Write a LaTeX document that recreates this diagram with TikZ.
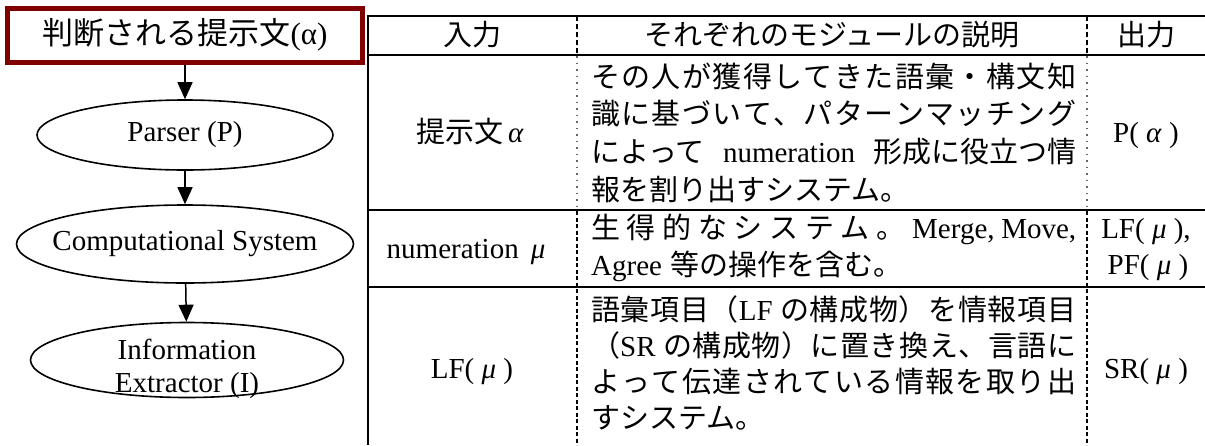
\documentclass[tikz,border=0pt]{standalone}
\usepackage{fontspec}
\setmainfont{Liberation Serif}
\newfontfamily\jp{Noto Sans CJK JP}
\usetikzlibrary{shapes.geometric,arrows.meta}
\definecolor{boxred}{RGB}{128,0,0}
\def\spreadchars#1{\spreadfirst#1\relax}
\def\spreadfirst#1{#1\spreadrest}
\def\spreadrest#1{\ifx\relax#1\else\hfil#1\expandafter\spreadrest\fi}
\newcommand\jline[1]{\makebox[485pt][s]{#1}}
\tikzset{
  every node/.style={font=\fontsize{29}{33}\selectfont, inner sep=0pt},
  titlebox/.style={draw=boxred, line width=5pt, minimum width=355pt, minimum height=54pt, font=\fontsize{31}{36}\selectfont},
  ell/.style={draw, ellipse, line width=1.6pt},
  arr/.style={line width=1.5pt, -{Triangle[length=17pt,width=15pt]}},
  rule/.style={line width=2.5pt},
  vrule/.style={line width=2pt},
  hdash/.style={line width=2.6pt, dash pattern=on 5pt off 3pt},
  fdot/.style={line width=1.3pt, black!60, dash pattern=on 1.5pt off 5pt},
  tdash/.style={line width=2.4pt, dash pattern=on 4pt off 2.5pt},
  dline/.style={anchor=base west},
  cell/.style={anchor=base},
}
\begin{document}
\begin{tikzpicture}[x=1pt,y=-1pt]
\useasboundingbox (0,0) rectangle (1205,445);
% flowchart
\node[titlebox] (title) at (185,35) {{\jp 判断される提示文}(α)};
\node[ell, minimum width=296pt, minimum height=70pt] (parser) at (185,135) {\makebox[0pt]{Parser (P)}};
\node[ell, minimum width=337pt, minimum height=78pt] (cs) at (185,244) {\makebox[0pt]{Computational System}};
\node[ell, minimum width=313pt, minimum height=75pt] (ie) at (187,360) {};
\node[align=center] (ietext) at (187,369) {Information\\Extractor (I)};
\draw[arr] (title) -- (parser);
\draw[arr] (parser) -- (cs);
\draw[arr] (cs) -- (ie);
% table rules
\draw[rule] (368,16) -- (1205,16);
\draw[rule] (368,55) -- (1205,55);
\draw[rule] (368,210) -- (1205,210);
\draw[rule] (368,287) -- (1205,287);
\draw[vrule] (368,15) -- (368,445);
\draw[hdash] (577,16) -- (577,55);
\draw[hdash] (1087,16) -- (1087,55);
\draw[fdot] (577,56) -- (577,210);
\draw[fdot] (1087,56) -- (1087,210);
\draw[tdash] (577,211) -- (577,445);
\draw[tdash] (1087,211) -- (1087,445);
% header
\node[cell] (h1) at (472,45) {\jp 入力};
\node[cell] (h2) at (832,45) {\jp それぞれのモジュールの説明};
\node[cell] (h3) at (1146,45) {\jp 出力};
% row 1
\node[cell] (in1) at (470,142) {{\jp 提示文}\,\textit{α}};
\node[dline] (d1a) at (591,87) {\jline{\jp\spreadchars{その人が獲得してきた語彙・構文知}}};
\node[dline] (d1b) at (591,124) {\jline{\jp\spreadchars{識に基づいて、パターンマッチング}}};
\node[dline] (d1c) at (591,162) {\jline{{\jp によって}\hfil numeration\hfil{\jp 形成に役立つ情}}};
\node[dline] (d1d) at (591,200) {\jp 報を割り出すシステム。};
\node[cell] (out1) at (1146,142) {P( \textit{α} )};
% row 2
\node[cell] (in2) at (466,258) {numeration\hspace{12pt}\textit{μ}};
\node[dline] (d2a) at (591,238) {\jline{\jp\spreadchars{生得的なシステム。}\hfil\rmfamily Merge,\hfil Move,}};
\node[dline] (d2b) at (591,275) {Agree\hspace{8pt}{\jp 等の操作を含む。}};
\node[cell] (out2a) at (1146,238) {LF( \textit{μ} ),};
\node[cell] (out2b) at (1148,274) {PF( \textit{μ} )};
% row 3
\node[cell] (in3) at (472,378) {LF( \textit{μ} )};
\node[dline] (d3a) at (591,320) {\jline{\jp\spreadchars{語彙項目（}\rmfamily LF\hspace{7pt}\hfil\jp\spreadchars{の構成物）を情報項目}}};
\node[dline] (d3b) at (591,356) {\jline{\jp\spreadchars{（}\rmfamily SR\hspace{7pt}\hfil\jp\spreadchars{の構成物）に置き換え、言語に}}};
\node[dline] (d3c) at (591,392) {\jline{\jp\spreadchars{よって伝達されている情報を取り出}}};
\node[dline] (d3d) at (591,428) {\jp すシステム。};
\node[cell] (out3) at (1146,378) {SR( \textit{μ} )};
\end{tikzpicture}
\end{document}
